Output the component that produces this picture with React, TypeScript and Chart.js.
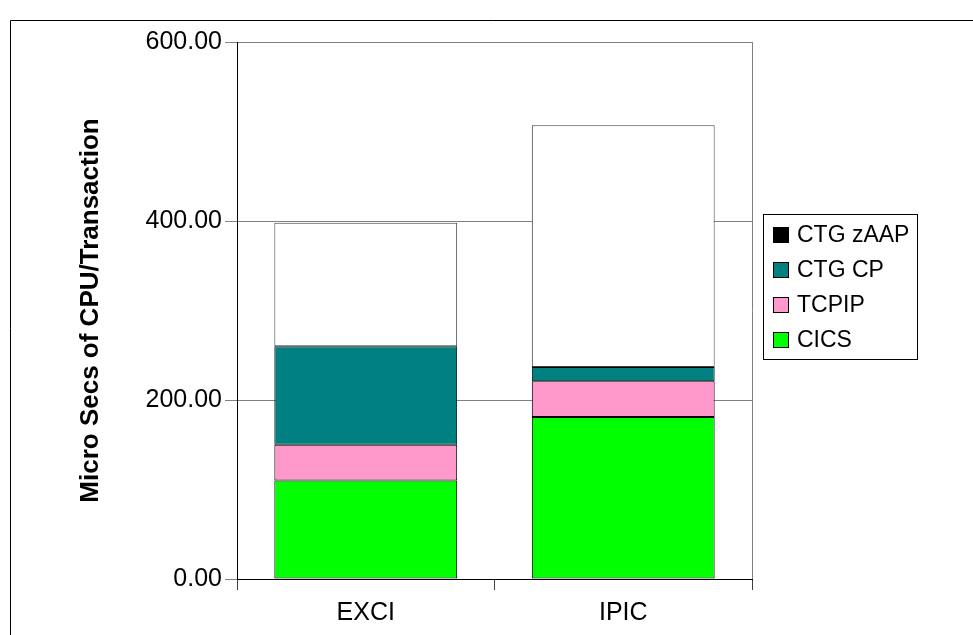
import React, { useEffect, useRef } from "react";
import { Chart, registerables } from "chart.js";

Chart.register(...registerables);

const categories = ["EXCI", "IPIC"];
const seriesNames = ["CICS", "TCPIP", "CTG CP", "CTG zAAP"];
const cicsValues = [110, 181];
const tcpipValues = [40, 40];
const ctgCpValues = [110, 16];
const ctgZaapValues = [138, 270];
const barColors = ["#00FF00", "#FF99CC", "#008080", "#FFFFFF"];
const legendColors = ["#00FF00", "#FF99CC", "#008080", "#000000"];
const yTicks = [0, 200, 400, 600];
const yTitle = "Micro Secs of CPU/Transaction";

const FONT = "'Liberation Sans', Arial, sans-serif";

// Outer frame of the chart object and the grey right edge of the plot area
const framePlugin = {
  id: "frame",
  beforeDraw(chart: any) {
    const { ctx, width, height } = chart;
    ctx.save();
    ctx.fillStyle = "#fff";
    ctx.fillRect(0, 0, width, height);
    ctx.strokeStyle = "#000";
    ctx.lineWidth = 1;
    ctx.beginPath();
    ctx.moveTo(10.5, height + 5);
    ctx.lineTo(10.5, 20.5);
    ctx.lineTo(width + 5, 20.5);
    ctx.stroke();
    ctx.restore();
  },
  afterDatasetsDraw(chart: any) {
    const { ctx, chartArea } = chart;
    ctx.save();
    ctx.strokeStyle = "#808080";
    ctx.lineWidth = 1;
    ctx.beginPath();
    ctx.moveTo(Math.round(chartArea.right) + 0.5, chartArea.top);
    ctx.lineTo(Math.round(chartArea.right) + 0.5, chartArea.bottom);
    ctx.stroke();
    ctx.restore();
  },
};

// Boxed legend listing the series from top of stack to bottom
const legendPlugin = {
  id: "boxedLegend",
  afterDraw(chart: any) {
    const { ctx, chartArea } = chart;
    const x = Math.round(chartArea.right) + 11;
    const y = Math.round(chartArea.top) + 172;
    const w = 154;
    const h = 145;
    ctx.save();
    ctx.fillStyle = "#fff";
    ctx.fillRect(x, y, w, h);
    ctx.strokeStyle = "#000";
    ctx.lineWidth = 1;
    ctx.strokeRect(x + 0.5, y + 0.5, w, h);
    ctx.font = `23px ${FONT}`;
    ctx.textBaseline = "middle";
    ctx.textAlign = "left";
    const order = [3, 2, 1, 0];
    order.forEach((idx, row) => {
      const cy = y + 21 + row * 35;
      ctx.fillStyle = legendColors[idx];
      ctx.fillRect(x + 10, cy - 8, 16, 16);
      ctx.strokeStyle = "#000";
      ctx.strokeRect(x + 10.5, cy - 7.5, 15, 15);
      ctx.fillStyle = "#000";
      ctx.fillText(seriesNames[idx], x + 34, cy + 1);
    });
    ctx.restore();
  },
};

export default function App() {
  const canvasRef = useRef<HTMLCanvasElement | null>(null);

  useEffect(() => {
    if (!canvasRef.current) return;
    const values = [cicsValues, tcpipValues, ctgCpValues, ctgZaapValues];
    const chart = new Chart(canvasRef.current, {
      type: "bar",
      data: {
        labels: categories,
        datasets: seriesNames.map((name, i) => ({
          label: name,
          data: values[i],
          backgroundColor: barColors[i],
          borderColor: i === 3 ? "#404040" : "#000",
          borderWidth: 1,
          borderSkipped: false,
          barPercentage: 0.71,
          categoryPercentage: 1,
        })),
      },
      options: {
        responsive: false,
        animation: false,
        devicePixelRatio: 1,
        layout: { padding: { top: 42, right: 221, left: 0, bottom: 0 } },
        plugins: {
          legend: { display: false },
          tooltip: { enabled: false },
        },
        scales: {
          x: {
            stacked: true,
            offset: true,
            grid: {
              display: true,
              drawOnChartArea: false,
              offset: true,
              tickLength: 11,
              color: "#404040",
            },
            border: { display: true, color: "#000", width: 1 },
            ticks: {
              color: "#000",
              font: { family: FONT, size: 25 },
              padding: 8,
              maxRotation: 0,
            },
            afterFit(scale: any) {
              scale.height = 56;
            },
          },
          y: {
            stacked: true,
            min: 0,
            max: 600,
            afterBuildTicks(scale: any) {
              scale.ticks = yTicks.map((v) => ({ value: v }));
            },
            grid: {
              color: "#808080",
              tickLength: 12,
              tickColor: "#808080",
            },
            border: { display: true, color: "#000", width: 1 },
            ticks: {
              color: "#000",
              font: { family: FONT, size: 25 },
              padding: 3,
              callback: (v: any) => Number(v).toFixed(2),
            },
            title: {
              display: true,
              text: yTitle,
              color: "#000",
              font: { family: FONT, size: 26, weight: "bold" },
              padding: { top: 75, bottom: 0 },
            },
            afterFit(scale: any) {
              scale.width = 237;
            },
          },
        },
      },
      plugins: [framePlugin, legendPlugin],
    });
    return () => chart.destroy();
  }, []);

  return (
    <div style={{ position: "fixed", left: 0, top: 0, width: 973, height: 635, background: "#fff" }}>
      <canvas ref={canvasRef} width={973} height={635} />
    </div>
  );
}
